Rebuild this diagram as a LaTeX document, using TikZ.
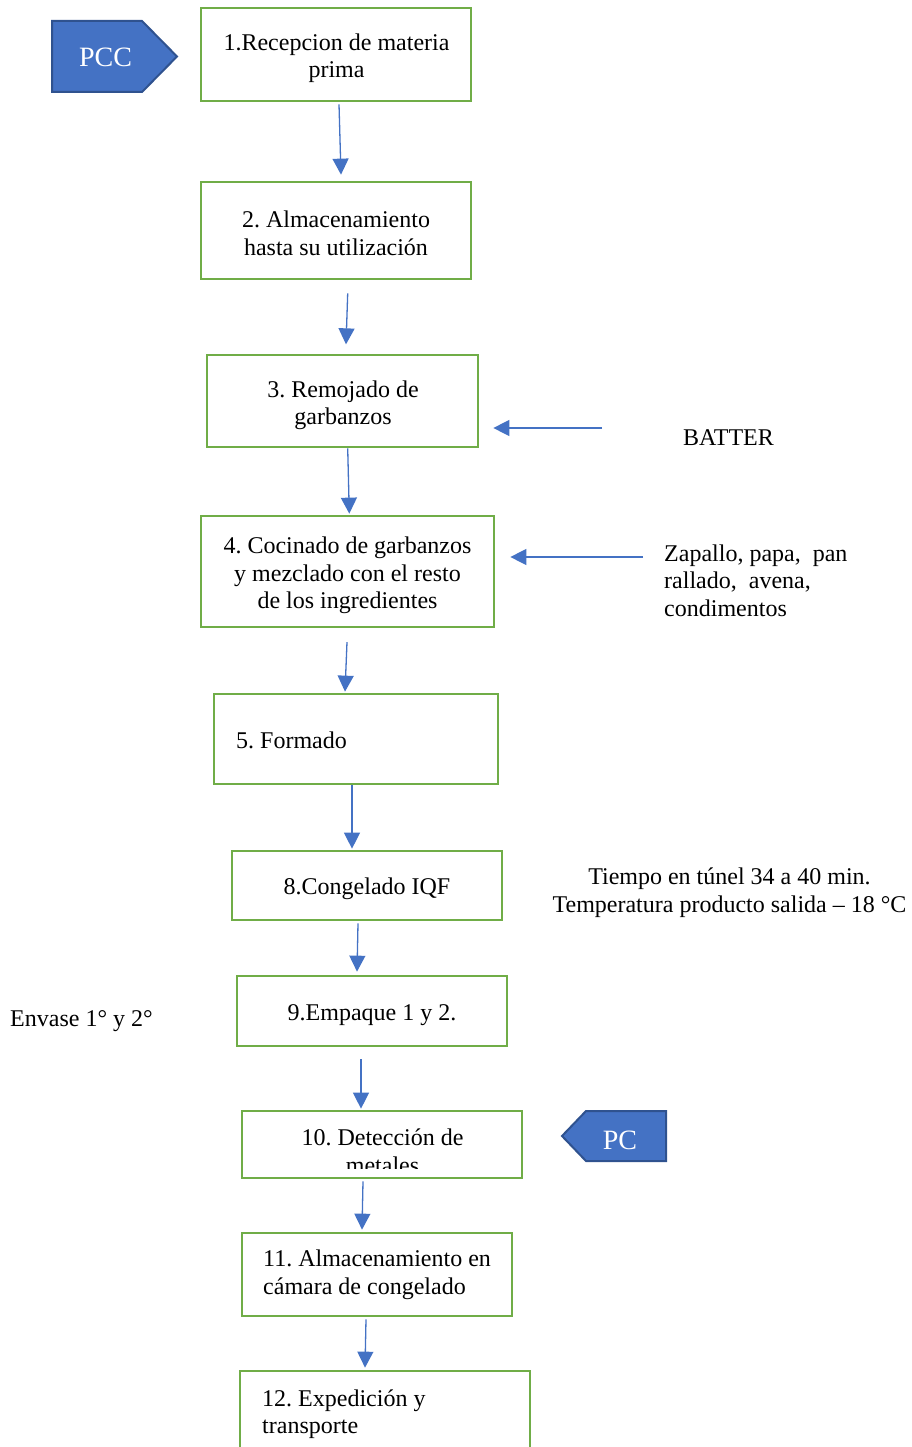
\documentclass[tikz,border=0pt]{standalone}
\usepackage{fontspec}
\setmainfont{Liberation Serif}
\usetikzlibrary{arrows.meta,calc}
\definecolor{boxgreen}{HTML}{70AD47}
\definecolor{arrblue}{HTML}{4472C4}
\definecolor{darkblue}{HTML}{2F528F}
\frenchspacing
\begin{document}
\begin{tikzpicture}[x=1pt,y=-1pt,
  txt/.style={font=\fontsize{24}{27.5}\selectfont, inner sep=0pt},
  ctxt/.style={txt, align=center},
  stepbox/.style={draw=boxgreen, line width=2.7pt, inner sep=0pt},
  arr/.style={draw=arrblue, line width=1.3pt, -{Triangle[length=16pt,width=16pt]}},
  tag/.style={fill=arrblue, draw=darkblue, line width=2pt},
  tagtxt/.style={text=white, font=\fontsize{28}{32}\selectfont, inner sep=0pt}]
\useasboundingbox (0,0) rectangle (912,1447);
\clip (0,0) rectangle (912,1447);
% boxes
\node[stepbox, minimum width=270pt, minimum height=93pt] (b1) at (336,54.5) {};
\node[stepbox, minimum width=270pt, minimum height=97pt] (b2) at (336,230.5) {};
\node[stepbox, minimum width=271pt, minimum height=92pt] (b3) at (342.5,401) {};
\node[stepbox, minimum width=293pt, minimum height=111pt] (b4) at (347.5,571.5) {};
\node[stepbox, minimum width=284pt, minimum height=90pt] (b5) at (356,739) {};
\node[stepbox, minimum width=270pt, minimum height=69pt] (b8) at (367,885.5) {};
\node[stepbox, minimum width=270pt, minimum height=70pt] (b9) at (372,1011) {};
\node[stepbox, minimum width=280pt, minimum height=67pt] (b10) at (382,1144.5) {};
\node[stepbox, minimum width=270pt, minimum height=83pt] (b11) at (377,1274.5) {};
\node[stepbox, minimum width=290pt, minimum height=109pt] (b12) at (385,1425.5) {};
% texts inside boxes
\node[ctxt] (t1) at ($(b1.center)+(0.5,3.5)$) {1.Recepcion de materia\\prima};
\node[ctxt] (t2) at ($(b2.center)+(0,3)$) {2. Almacenamiento\\hasta su utilización};
\node[ctxt] (t3) at ($(b3.center)+(0.5,4.5)$) {3. Remojado de\\garbanzos};
\node[ctxt] (t4) at ($(b4.center)+(0,4)$) {4. Cocinado de garbanzos\\y mezclado con el resto\\de los ingredientes};
\node[txt, anchor=west] (t5) at (236,740) {5. Formado};
\node[ctxt] (t8) at ($(b8.center)+(0,3.5)$) {8.Congelado IQF};
\node[ctxt] (t9) at ($(b9.center)+(0,4)$) {9.Empaque 1 y 2.};
\begin{scope}
  \clip (244,1113) rectangle (520,1168);
  \node[ctxt] (t10) at ($(b10.center)+(0.5,7)$) {10. Detección de\\metales};
\end{scope}
\node[txt, anchor=west, align=left] (t11) at (263,1274.5) {11. Almacenamiento en\\cámara de congelado};
\node[txt, anchor=west, align=left] (t12) at (262,1414) {12. Expedición y\\transporte};
% side texts
\node[txt] (batter) at (728.5,438) {BATTER};
\node[txt, anchor=west, align=left] (zap) at (664,580.5) {Zapallo, papa,\ \ pan\\rallado,\ \ avena,\\condimentos};
\node[ctxt] (tiempo) at (729.5,892.5) {Tiempo en túnel 34 a 40 min.\\Temperatura producto salida – 18 °C};
\node[txt, anchor=west] (envase) at (10,1021) {Envase 1° y 2°};
% tags
\draw[tag] (52,21) -- (142,21) -- (177,56.5) -- (142,92) -- (52,92) -- cycle;
\node[tagtxt] (pcc) at (105.5,57) {PCC};
\draw[tag] (586,1111) -- (666,1111) -- (666,1161) -- (586,1161) -- (562,1136) -- cycle;
\node[tagtxt] (pc) at (620,1140) {PC};
% vertical arrows
\draw[arr] ($(b1.south)+(3,2)$) -- ($(b2.north)+(5,-6)$);
\draw[arr] ($(b2.south)+(11.7,13)$) -- ($(b3.north)+(3.5,-9.3)$);
\draw[arr] ($(b3.south)+(5.2,0)$) -- ($(b4.north)+(1.8,-1)$);
\draw[arr] ($(b4.south)+(-0.5,13.7)$) -- ($(b5.north)+(-11,-1)$);
\draw[arr] ($(b5.south)+(-4,0)$) -- ($(b8.north)+(-15,-1)$);
\draw[arr] ($(b8.south)+(-9,2)$) -- ($(b9.north)+(-15,-3)$);
\draw[arr] ($(b9.south)+(-11,12)$) -- ($(b10.north)+(-21,-1)$);
\draw[arr] ($(b10.south)+(-19,2)$) -- ($(b11.north)+(-15,-2)$);
\draw[arr] ($(b11.south)+(-11,2)$) -- ($(b12.north)+(-20,-2)$);
% horizontal arrows
\coordinate (batS) at (602,428);
\coordinate (zapS) at (643,557);
\draw[arr] (batS) -- ($(b3.east)+(14,27)$);
\draw[arr] (zapS) -- ($(b4.east)+(15,-14.5)$);
\end{tikzpicture}
\end{document}
